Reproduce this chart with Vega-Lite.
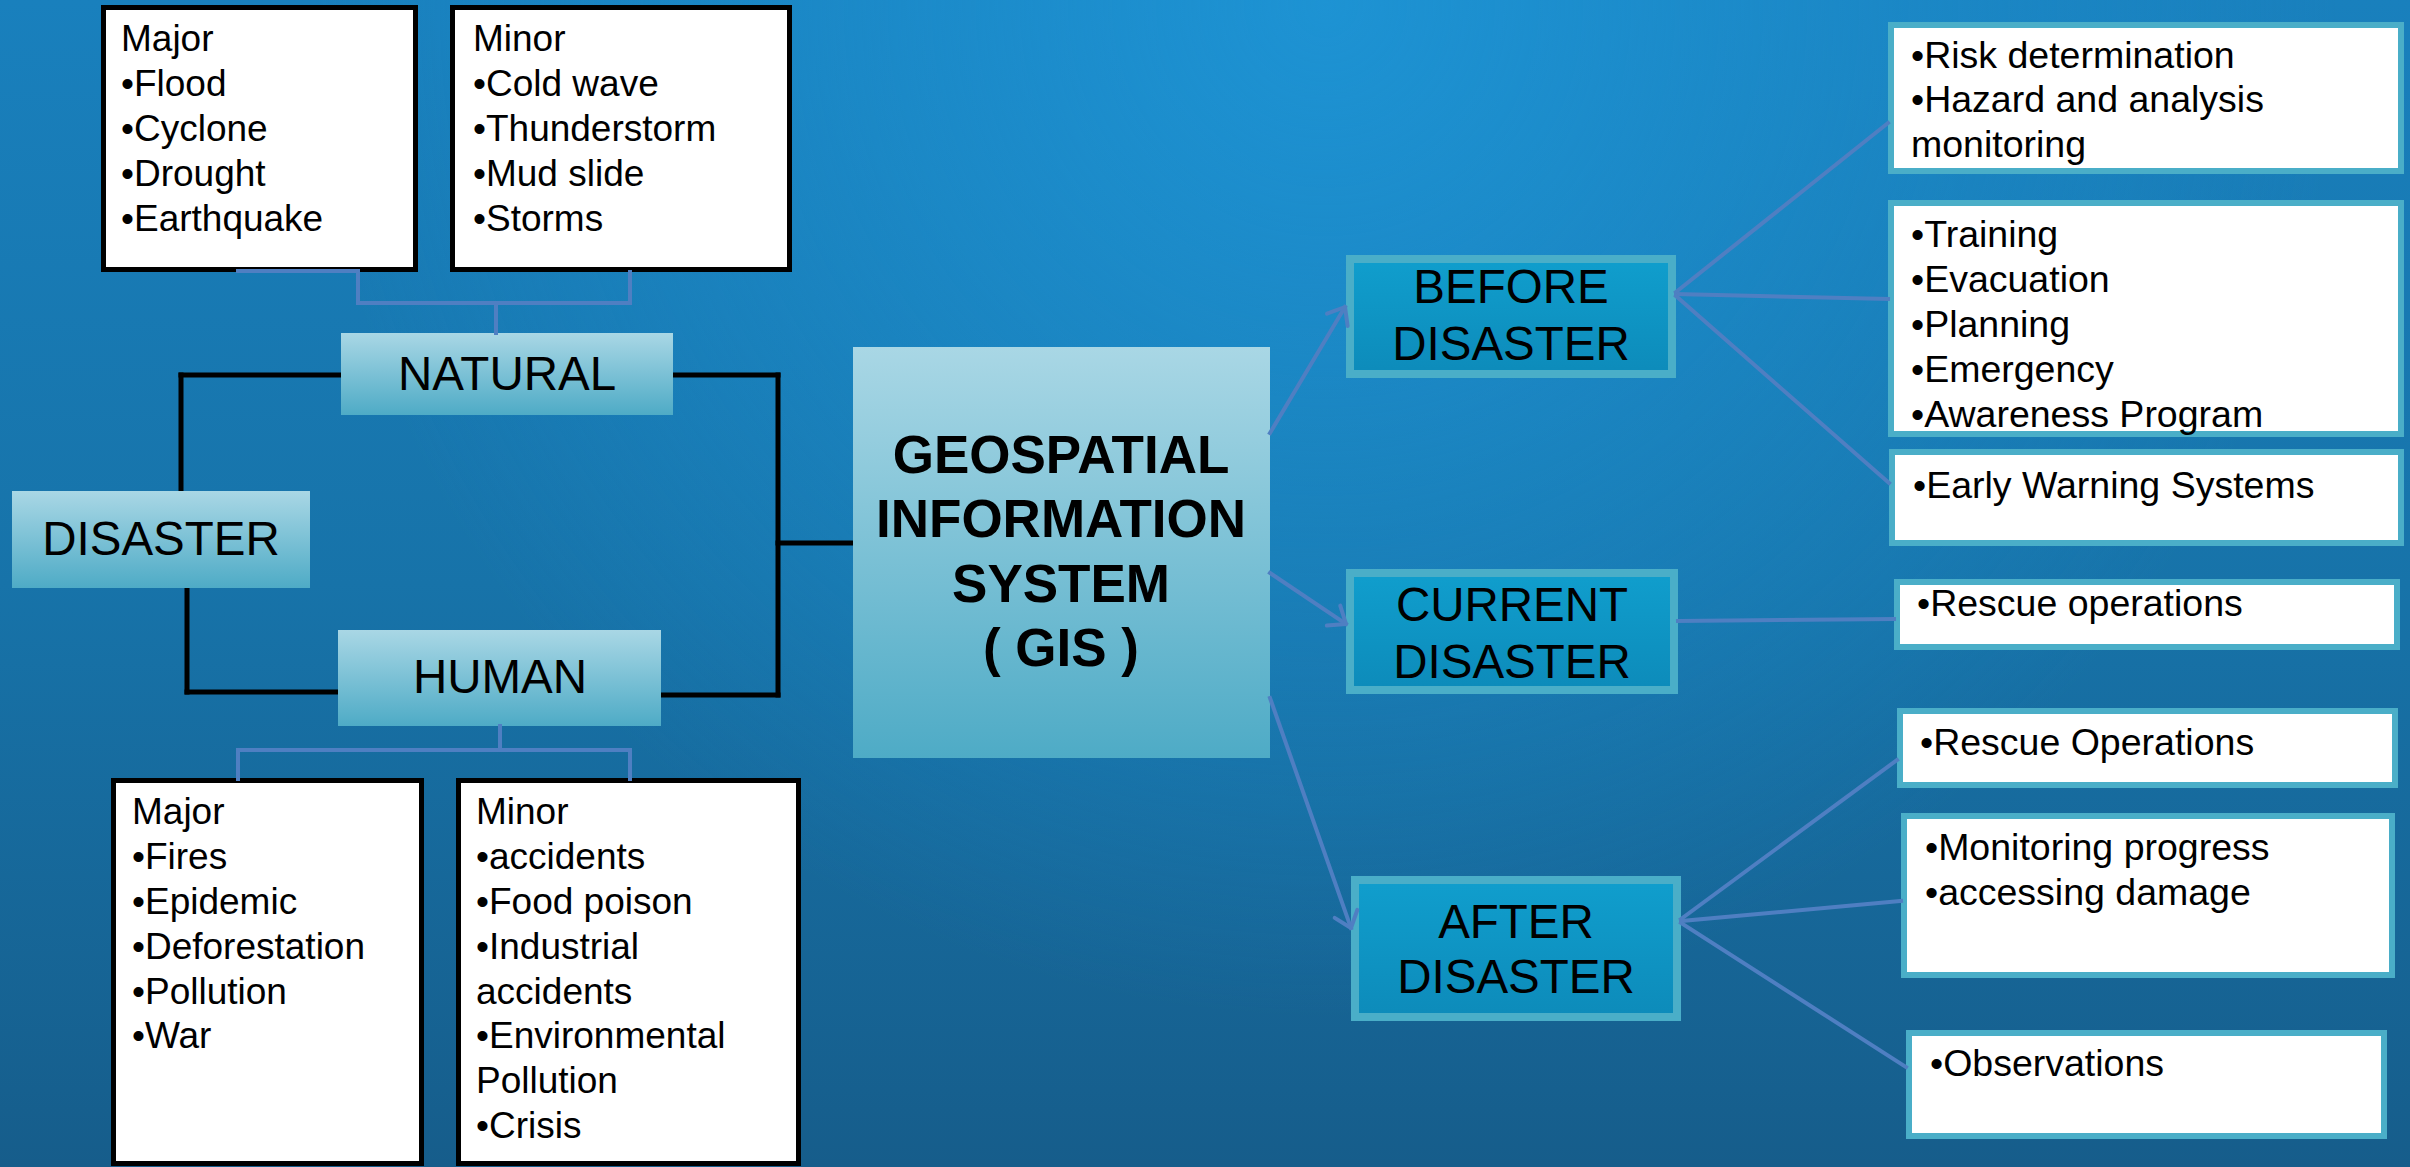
{
  "$schema": "https://vega.github.io/schema/vega-lite/v6.json",
  "width": 2410,
  "height": 1167,
  "padding": 0,
  "autosize": {"type": "none"},
  "background": "#176b9c",
  "config": {"view": {"stroke": null}},
  "datasets": {
    "bg": [{"x": 0, "x2": 2410, "y": 0, "y2": 1167}],
    "lists": [
      {"x": 103.5, "x2": 415.5, "y": 7.5, "y2": 269.5},
      {"x": 452.5, "x2": 789.5, "y": 7.5, "y2": 269.5},
      {"x": 113.5, "x2": 421.5, "y": 780.5, "y2": 1163.5},
      {"x": 458.5, "x2": 798.5, "y": 780.5, "y2": 1163.5}
    ],
    "labels": [
      {"x": 341, "x2": 673, "y": 333, "y2": 415},
      {"x": 12, "x2": 310, "y": 491, "y2": 588},
      {"x": 338, "x2": 661, "y": 630, "y2": 726},
      {"x": 853, "x2": 1270, "y": 347, "y2": 758}
    ],
    "cats": [
      {"x": 1350, "x2": 1672, "y": 259, "y2": 374},
      {"x": 1350, "x2": 1674, "y": 573, "y2": 690},
      {"x": 1355, "x2": 1677, "y": 880, "y2": 1017}
    ],
    "items": [
      {"x": 1891, "x2": 2401, "y": 25, "y2": 171},
      {"x": 1891, "x2": 2401, "y": 203, "y2": 434},
      {"x": 1892, "x2": 2401, "y": 452, "y2": 543},
      {"x": 1897, "x2": 2397, "y": 582, "y2": 647},
      {"x": 1900, "x2": 2395, "y": 711, "y2": 785},
      {"x": 1904, "x2": 2392, "y": 816, "y2": 975},
      {"x": 1909, "x2": 2384, "y": 1033, "y2": 1136}
    ],
    "blackLines": [
      {"x": 341, "y": 375, "x2": 181, "y2": 375},
      {"x": 181, "y": 375, "x2": 181, "y2": 491},
      {"x": 187, "y": 588, "x2": 187, "y2": 692},
      {"x": 187, "y": 692, "x2": 338, "y2": 692},
      {"x": 673, "y": 375, "x2": 778, "y2": 375},
      {"x": 778, "y": 375, "x2": 778, "y2": 695},
      {"x": 778, "y": 695, "x2": 661, "y2": 695},
      {"x": 778, "y": 543, "x2": 853, "y2": 543}
    ],
    "blueLines": [
      {"x": 238, "y": 271, "x2": 358, "y2": 271},
      {"x": 358, "y": 271, "x2": 358, "y2": 303},
      {"x": 358, "y": 303, "x2": 630, "y2": 303},
      {"x": 630, "y": 272, "x2": 630, "y2": 303},
      {"x": 496, "y": 303, "x2": 496, "y2": 333},
      {"x": 500, "y": 726, "x2": 500, "y2": 750},
      {"x": 238, "y": 750, "x2": 630, "y2": 750},
      {"x": 238, "y": 750, "x2": 238, "y2": 779},
      {"x": 630, "y": 750, "x2": 630, "y2": 779},
      {"x": 1270, "y": 433, "x2": 1345, "y2": 307},
      {"x": 1270, "y": 573, "x2": 1346, "y2": 624},
      {"x": 1270, "y": 698, "x2": 1351, "y2": 928},
      {"x": 1676, "y": 292, "x2": 1888, "y2": 123},
      {"x": 1676, "y": 294, "x2": 1888, "y2": 299},
      {"x": 1676, "y": 296, "x2": 1889, "y2": 483},
      {"x": 1678, "y": 621, "x2": 1894, "y2": 619},
      {"x": 1681, "y": 919, "x2": 1897, "y2": 760},
      {"x": 1681, "y": 921, "x2": 1901, "y2": 901},
      {"x": 1681, "y": 923, "x2": 1906, "y2": 1067}
    ],
    "arrows": [
      {"x": 1345, "y": 307, "angle": 300.8},
      {"x": 1346, "y": 624, "angle": 33.9},
      {"x": 1351, "y": 928, "angle": 70.6}
    ],
    "listText": [
      {"x": 121, "y": 40, "t": "Major"},
      {"x": 121, "y": 85, "t": "•Flood"},
      {"x": 121, "y": 130, "t": "•Cyclone"},
      {"x": 121, "y": 175, "t": "•Drought"},
      {"x": 121, "y": 220, "t": "•Earthquake"},
      {"x": 473, "y": 40, "t": "Minor"},
      {"x": 473, "y": 85, "t": "•Cold wave"},
      {"x": 473, "y": 130, "t": "•Thunderstorm"},
      {"x": 473, "y": 175, "t": "•Mud slide"},
      {"x": 473, "y": 220, "t": "•Storms"},
      {"x": 132, "y": 813, "t": "Major"},
      {"x": 132, "y": 858, "t": "•Fires"},
      {"x": 132, "y": 903, "t": "•Epidemic"},
      {"x": 132, "y": 948, "t": "•Deforestation"},
      {"x": 132, "y": 993, "t": "•Pollution"},
      {"x": 132, "y": 1037, "t": "•War"},
      {"x": 476, "y": 813, "t": "Minor"},
      {"x": 476, "y": 858, "t": "•accidents"},
      {"x": 476, "y": 903, "t": "•Food poison"},
      {"x": 476, "y": 948, "t": "•Industrial"},
      {"x": 476, "y": 993, "t": "accidents"},
      {"x": 476, "y": 1037, "t": "•Environmental"},
      {"x": 476, "y": 1082, "t": "Pollution"},
      {"x": 476, "y": 1127, "t": "•Crisis"}
    ],
    "itemText": [
      {"x": 1911, "y": 57, "t": "•Risk determination"},
      {"x": 1911, "y": 101, "t": "•Hazard and analysis"},
      {"x": 1911, "y": 146, "t": "monitoring"},
      {"x": 1911, "y": 236, "t": "•Training"},
      {"x": 1911, "y": 281, "t": "•Evacuation"},
      {"x": 1911, "y": 326, "t": "•Planning"},
      {"x": 1911, "y": 371, "t": "•Emergency"},
      {"x": 1911, "y": 416, "t": "•Awareness Program"},
      {"x": 1913, "y": 487, "t": "•Early Warning Systems"},
      {"x": 1917, "y": 605, "t": "•Rescue operations"},
      {"x": 1920, "y": 744, "t": "•Rescue Operations"},
      {"x": 1925, "y": 849, "t": "•Monitoring progress"},
      {"x": 1925, "y": 894, "t": "•accessing damage"},
      {"x": 1930, "y": 1065, "t": "•Observations"}
    ],
    "labelText": [
      {"x": 507, "y": 376, "t": "NATURAL"},
      {"x": 161, "y": 541, "t": "DISASTER"},
      {"x": 500, "y": 679, "t": "HUMAN"},
      {"x": 1511, "y": 289, "t": "BEFORE"},
      {"x": 1511, "y": 346, "t": "DISASTER"},
      {"x": 1512, "y": 607, "t": "CURRENT"},
      {"x": 1512, "y": 664, "t": "DISASTER"},
      {"x": 1516, "y": 924, "t": "AFTER"},
      {"x": 1516, "y": 979, "t": "DISASTER"}
    ],
    "gisText": [
      {"x": 1061, "y": 457, "t": "GEOSPATIAL"},
      {"x": 1061, "y": 521, "t": "INFORMATION"},
      {"x": 1061, "y": 586, "t": "SYSTEM"},
      {"x": 1061, "y": 650, "t": "( GIS )"}
    ]
  },
  "encoding": {
    "x": {"field": "x", "type": "quantitative", "scale": {"domain": [0, 2410], "nice": false, "zero": false}, "axis": null},
    "y": {"field": "y", "type": "quantitative", "scale": {"domain": [0, 1167], "nice": false, "zero": false, "reverse": true}, "axis": null}
  },
  "layer": [
    {
      "data": {"name": "bg"},
      "mark": {"type": "rect", "fill": {"gradient": "linear", "x1": 0, "y1": 0, "x2": 0, "y2": 1, "stops": [{"offset": 0, "color": "#1980bd"}, {"offset": 0.5, "color": "#1773a9"}, {"offset": 1, "color": "#165d8b"}]}},
      "encoding": {"x2": {"field": "x2"}, "y2": {"field": "y2"}}
    },
    {
      "data": {"name": "bg"},
      "mark": {"type": "rect", "fill": {"gradient": "radial", "x1": 0.55, "y1": 0.26, "r1": 0, "x2": 0.55, "y2": 0.26, "r2": 0.42, "stops": [{"offset": 0, "color": "rgba(30,150,215,0.85)"}, {"offset": 0.5, "color": "rgba(30,150,215,0.4)"}, {"offset": 1, "color": "rgba(30,150,215,0)"}]}},
      "encoding": {"x2": {"field": "x2"}, "y2": {"field": "y2"}}
    },
    {
      "data": {"name": "blackLines"},
      "mark": {"type": "rule", "color": "black", "strokeWidth": 5, "strokeCap": "square"},
      "encoding": {"x2": {"field": "x2"}, "y2": {"field": "y2"}}
    },
    {
      "data": {"name": "lists"},
      "mark": {"type": "rect", "fill": "white", "stroke": "black", "strokeWidth": 5},
      "encoding": {"x2": {"field": "x2"}, "y2": {"field": "y2"}}
    },
    {
      "data": {"name": "labels"},
      "mark": {"type": "rect", "fill": {"gradient": "linear", "x1": 0, "y1": 0, "x2": 0, "y2": 1, "stops": [{"offset": 0, "color": "#a9d7e5"}, {"offset": 1, "color": "#4eabc6"}]}},
      "encoding": {"x2": {"field": "x2"}, "y2": {"field": "y2"}}
    },
    {
      "data": {"name": "cats"},
      "mark": {"type": "rect", "stroke": "#4aaec8", "strokeWidth": 8, "fill": {"gradient": "linear", "x1": 0, "y1": 0, "x2": 0, "y2": 1, "stops": [{"offset": 0, "color": "#109ecd"}, {"offset": 1, "color": "#0d8bba"}]}},
      "encoding": {"x2": {"field": "x2"}, "y2": {"field": "y2"}}
    },
    {
      "data": {"name": "items"},
      "mark": {"type": "rect", "fill": "white", "stroke": "#4aaec8", "strokeWidth": 6},
      "encoding": {"x2": {"field": "x2"}, "y2": {"field": "y2"}}
    },
    {
      "data": {"name": "blueLines"},
      "mark": {"type": "rule", "color": "#4f7fc2", "strokeWidth": 4, "strokeCap": "square"},
      "encoding": {"x2": {"field": "x2"}, "y2": {"field": "y2"}}
    },
    {
      "data": {"name": "arrows"},
      "mark": {"type": "point", "shape": "M-1,-0.8L0,0L-1,0.8", "filled": false, "stroke": "#4f7fc2", "strokeWidth": 4, "size": 900, "opacity": 1, "strokeCap": "round", "strokeJoin": "round"},
      "encoding": {"angle": {"field": "angle", "type": "quantitative", "scale": null}}
    },
    {
      "data": {"name": "listText"},
      "mark": {"type": "text", "font": "Liberation Sans", "fontSize": 37, "align": "left", "baseline": "middle", "color": "black"},
      "encoding": {"text": {"field": "t"}}
    },
    {
      "data": {"name": "itemText"},
      "mark": {"type": "text", "font": "Liberation Sans", "fontSize": 37.5, "align": "left", "baseline": "middle", "color": "black"},
      "encoding": {"text": {"field": "t"}}
    },
    {
      "data": {"name": "labelText"},
      "mark": {"type": "text", "font": "Liberation Sans", "fontSize": 47.5, "align": "center", "baseline": "middle", "color": "black"},
      "encoding": {"text": {"field": "t"}}
    },
    {
      "data": {"name": "gisText"},
      "mark": {"type": "text", "font": "Liberation Sans", "fontSize": 53, "fontWeight": "bold", "align": "center", "baseline": "middle", "color": "black"},
      "encoding": {"text": {"field": "t"}}
    }
  ]
}
